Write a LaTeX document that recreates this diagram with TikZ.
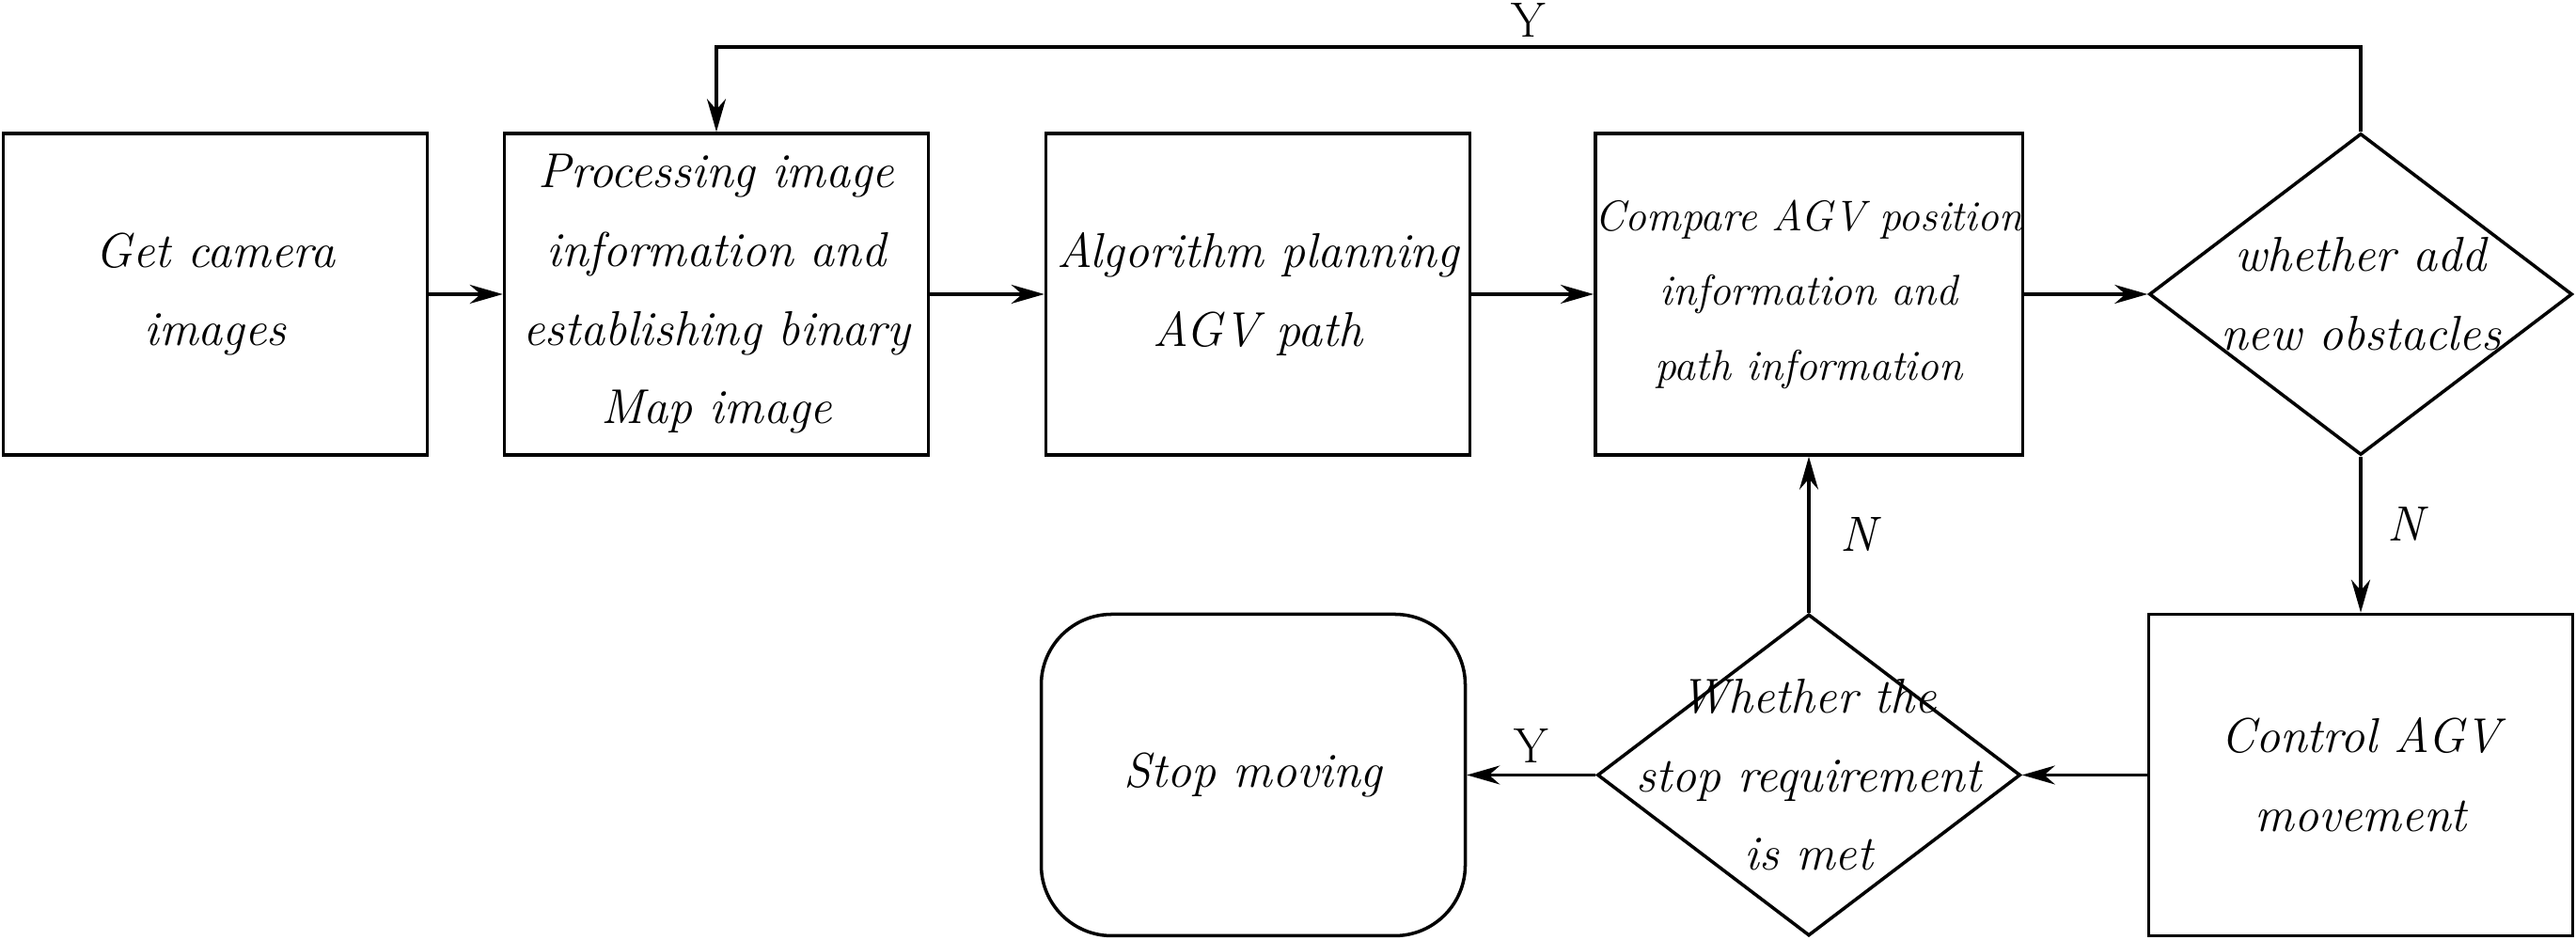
\documentclass[tikz,border=0pt]{standalone}
\usetikzlibrary{shapes.geometric,arrows.meta,positioning}

\tikzstyle{process}=[draw,line width=1pt,rectangle,minimum width=4.51cm,minimum height=3.42cm,inner sep=0pt,align=center,font=\fontsize{14.8}{23.8}\selectfont\itshape]
\tikzstyle{decision}=[draw,line width=1pt,diamond,minimum width=4.5cm,minimum height=3.42cm,inner sep=0pt]
\tikzstyle{stopbox}=[process,rounded corners=0.75cm]
\tikzstyle{txt}=[align=center,inner sep=0pt,font=\fontsize{14.8}{23.8}\selectfont\itshape]
\tikzstyle{edge}=[draw,line width=1pt,-{Stealth[length=3.5mm,width=2mm]}]
\tikzstyle{yes}=[font=\fontsize{15}{18}\selectfont]
\tikzstyle{no}=[font=\fontsize{15}{18}\selectfont\itshape]

\begin{document}
\begin{tikzpicture}
    \useasboundingbox (0,0) rectangle (27.4,10);
    % First the boxes of the upper row
    \foreach \pos/\name/\txt in {{(2.29,6.87)/get/{Get camera\\images}},
        {(7.62,6.87)/proc/{Processing image\\information and\\establishing binary\\Map image}},
        {(13.38,6.87)/plan/{Algorithm planning\\AGV path}}}
        \node[process] (\name) at \pos {\txt};
    \node[process,font=\fontsize{13}{22.6}\selectfont\itshape] (comp) at (19.24,6.87) {Compare AGV position\\information and\\path information};
    \node[decision] (dec1) at (25.11,6.87) {};
    \node[txt] (dec1txt) at (dec1) {whether add\\new obstacles};
    % Lower row
    \node[process] (ctrl) at (25.11,1.755) {Control AGV\\movement};
    \node[decision] (dec2) at (19.24,1.755) {};
    \node[txt] (dec2txt) at (dec2) {Whether the\\stop requirement\\is met};
    \node[stopbox] (stop) at (13.33,1.755) {Stop moving};
    % Connect the boxes
    \foreach \source/\dest in {get/proc,proc/plan,plan/comp,comp/dec1,ctrl/dec2}
        \path[edge] (\source) -- (\dest);
    \path[edge] (dec2) -- node[yes,above=0mm] {Y} (stop);
    \path[edge] (dec1) -- node[no,right=1.5mm,pos=0.43] {N} (ctrl);
    \path[edge] (dec2) -- node[no,right=2mm] {N} (comp);
    \coordinate (topr) at ([yshift=0.9cm]dec1.north);
    \path[edge] (dec1.north) -- (topr) -| node[yes,inner sep=1pt,above=0.5mm,pos=0.253] {Y} (proc.north);
\end{tikzpicture}
\end{document}
